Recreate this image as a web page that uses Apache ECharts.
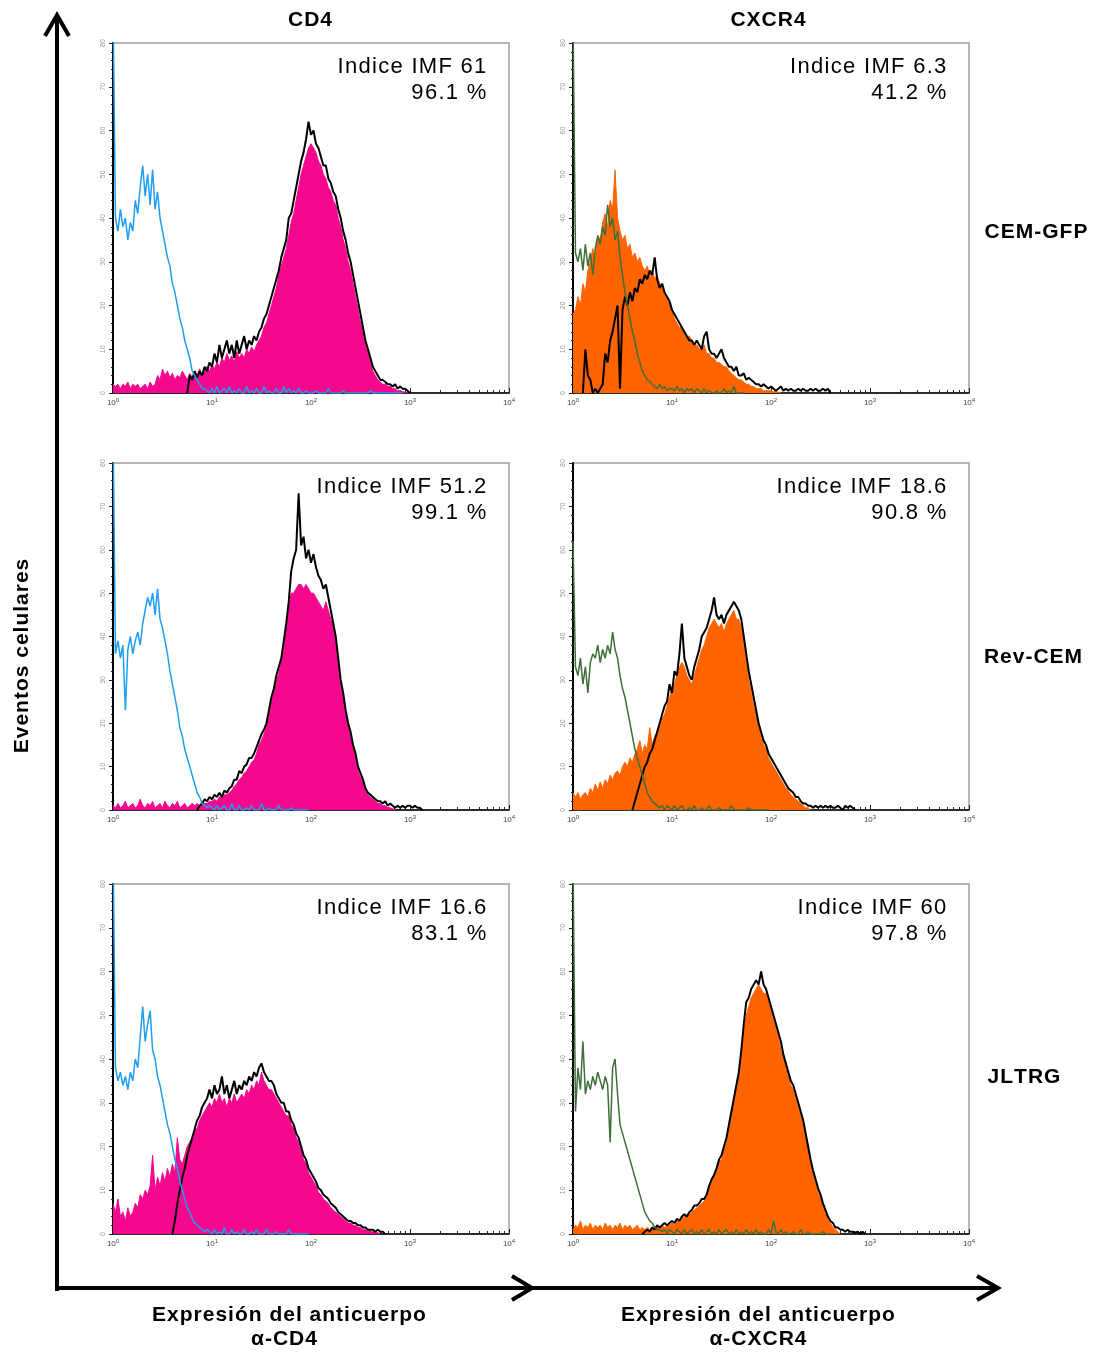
<!DOCTYPE html>
<html><head><meta charset="utf-8">
<script src="https://cdn.jsdelivr.net/npm/echarts@6.0.0/dist/echarts.min.js"></script>
<style>html,body{margin:0;padding:0;background:#fff}#c{width:1094px;height:1353px}</style>
</head><body><div id="c"></div>
<script>
// ---------- DATA (histogram counts, bins every 0.025 decade of log10 fluorescence) ----------
const STEP = 0.025;
const colTitles = ['CD4', 'CXCR4'];
const rowTitles = ['CEM-GFP', 'Rev-CEM', 'JLTRG'];
const imfLabels = ['Indice IMF 61', 'Indice IMF 6.3', 'Indice IMF 51.2', 'Indice IMF 18.6', 'Indice IMF 16.6', 'Indice IMF 60'];
const pctLabels = ['96.1 %', '41.2 %', '99.1 %', '90.8 %', '83.1 %', '97.8 %'];
const xTickLabels = ['0', '1', '2', '3', '4'];

// CD4 / CEM-GFP
const cd4CemCtrlStart = 0;
const cd4CemCtrl = [90,40,37,42,38,40,35,39,37,44, 41,47,52,45,50,43,51,42,46,40, 37,34,31,29,25,23,20,17,15,12, 10,8,5,4,3,2,1,1,0.5,0, 1,0,1.5,0,0.5,1,0,1.5,0,0.5, 0,1,0,0,1.5,0,0.5,0,1,0, 0,1.5,0,0.5,0,0,1,0,0,1.5, 0,1,0,0.5,0,1,0,0,0.5,0, 0,0,0.5,0,0,0,0,1,0,0, 0,0,0,0.5,0,0,0,0,0,0, 0,0,0,0,0.5,0,0,0,0,0, 0,0,0,0,0,0,0,0];
const cd4CemFillStart = 0;
const cd4CemFill = [2,1.5,2,1,2,1.5,2.5,1,2,1.5, 2,1,1.5,2,1,2.5,1.5,2,4,3, 5.5,4,5,3.5,4.5,3,4,3.5,5,4, 3,4.5,3.5,5,4,5.5,4,5,6,5, 6.5,5.5,7,6,8,7,9,7.5,8.5,7, 9.5,8,9,8,10,9,10.5,9.5,11,12, 13,15,16,18,20,22,24,27,29,31, 33,36,39,41,44,47,50,52,54,56, 57,56,55,53,52,50,49,47,46,44, 43,40,38,35,33,30,28,25,22,19, 16,14,11,9,7,5,4,3,2.5,2, 2,1.5,1.5,1,1,0.5,0.5,0.3,0.2,0, 0];
const cd4CemBlackStart = 0.75;
const cd4CemBlack = [0,4,3,5,3.5,5,4,6,5,7, 6,9,7,11,8,10,12,9,11,8, 12,9,11,13,10,12,11,13,12,14, 15,17,18,20,22,24,26,28,31,33, 35,40,41,44,47,50,53,55,58,62, 59,60,57,56,54,52,52,49,48,46, 45,42,40,37,35,32,30,27,24,21, 18,15,12,10,8,6,5,4,3,3, 2.5,2,2,1.5,2,1,1.5,1,1,0.5, 0];

// CXCR4 / CEM-GFP
const cxCemCtrlStart = 0;
const cxCemCtrl = [85,32,30,33,28,34,29,32,27,33, 36,34,38,36,43,38,40,35,37,31, 27,23,20,17,14,12,9,7,5,4, 3,2.5,2,1.5,1,2,1,1.5,0.5,1, 1,0.5,1.5,0.5,1,0,1,0.5,1,0, 1,0.5,0,1,0,0.5,0,0,0.5,0, 0,1,0,0.5,0,1.5,0,0,0,0];
const cxCemFillStart = 0;
const cxCemFill = [18,19,22,20,25,23,28,30,33,31, 36,35,39,41,38,44,42,51,40,37, 35,36,33,34,31,32,30,31,29,28, 29,27,28,26,27,25,24,23,22,20, 19,17,16,15,15,14,13,13,12,11, 11,10,10,11,9,9,8,8,7,7, 6.5,6,6,5,4.5,4,3.5,3,3,2.5, 2,2,1.5,1.5,1,1,1,0.5,0.5,0.5, 0.5,0.3,0.3,0.2,0];
const cxCemBlackStart = 0.1;
const cxCemBlack = [0,10,4,3,0,1,0,1,2,9, 7,12,14,17,20,1,19,22,20,23, 21,24,23,26,25,27,26,28,27,31, 26,24,25,23,22,21,19,18,17,16, 15,14,13,12,12,11,12,11,10,13, 14,10,9,9,8,9,10,8,7,6, 6,5,6,4,4,4.5,3,3.5,3,2.5, 2,2,1.5,2,1.5,1,1.5,1,0.5,1, 1.5,0.5,1,0.5,1,0.5,0.5,1,0.5,1, 0.5,0.5,1,0.5,1,0.5,0.5,1,0.5,1, 0];

// CD4 / Rev-CEM
const cd4RevCtrlStart = 0;
const cd4RevCtrl = [90,36,39,35,38,23,37,40,36,39, 41,38,43,46,49,47,50,45,51,44, 42,39,36,32,29,26,23,19,17,14, 12,10,8,6,4,3,1.5,1,0.5,1, 0.5,0,1,0,0.5,1,0,0,1.5,0, 0,1,0,0,0.5,0,1,0,0,0, 1.5,0,0,0.5,0,0,0,1,0,0, 0,0,0.5,0,0,0,0,0,0,0];
const cd4RevFillStart = 0;
const cd4RevFill = [1,0.5,1.5,0.5,1,2,0.5,1,1.5,0.5, 1,2.5,1,0.5,1.5,1,2,0.5,1,1.5, 0.5,2,1,0.5,1.5,1,2,0.5,1,1.5, 0.5,1,1.5,1,1.5,1,2,1.5,1.5,2, 2,2.5,2,3,3,3.5,3.5,4,4.5,5.5, 6,7,7.5,8.5,9,10,11,11.5,13,15, 16,17.5,19,22,25,27,29.5,31.5,34,38, 42,46,50,50,51,52,52,51,52,51, 50,50,49,48,47,46,48,46,44,42, 38,33,29,26,22,19,17,14,12,9, 7.5,6,4.5,3.5,3,2.5,2,1.5,1.5,1, 1,0.5,0.5,0.3,0];
const cd4RevBlackStart = 0.85;
const cd4RevBlack = [0,1,1.5,2.5,2,3,2.5,3.5,3,4, 3,4.5,4,5,5.5,7,7,9,8.5,10, 10.5,12,12,13,14.5,16,17.5,18.5,20,23, 26,28,31,33,35,39,43,48,55,58, 60,73,61,63,58,60,57,59,56,54, 53,51,52,49,46,43,40,35,30,27, 23,20,18,15,13,10,8.5,7,5,4, 3.5,3,2.5,2,2,1.5,2,1,1.5,1, 0.5,1,0.5,1,0.5,1,1,0.5,1,0.5,0.5, 0];

// CXCR4 / Rev-CEM
const cxRevCtrlStart = 0;
const cxRevCtrl = [62,33,31,35,29,33,27,34,36,35, 38,34,37,35,38,36,41,37,35,31, 28,26,23,20,17,14,12,10,8,6, 4,3,2,1.5,1,0.5,1,0,1,0.5, 0,1,0,0.5,1,0,0,0.5,0,1, 0,0,0.5,0,0,1,0,0,0,0.5, 0,0,0,0,1,0,0,0,0,0, 0,0.5,0,0,0,0,0,0,0,0];
const cxRevFillStart = 0;
const cxRevFill = [4,3,4,2.5,3.5,4,3,5,4,6, 4.5,6.5,5,7,6,8,7,8.5,9,8, 10,11,10,12,11,13,14,16,13,15, 14,19,15,17,18,20,21,22,24,26, 28,29,31,33,34,33,31,30,29,31, 33,35,37,38,40,42,43,44,43,42, 43,41,43,44,45,46,44,44,42,38, 34,30,27,24,22,19,17,15,14,12, 11,10,9,8,7,6,5,4.5,3.5,3, 2.5,2,1.5,1,0.5,0.5,0];
const cxRevBlackStart = 0.6;
const cxRevBlack = [0,2,4,6,8,10,11,13,14,16, 18,20,22,24,25,29,27,32,31,36, 43,35,33,31,30,33,35,37,40,41, 42,44,46,49,45,44,45,43,45,46, 47,48,47,46,44,40,36,32,29,26, 23,20,18,16,15,13,12,11,10,9, 8,7,6,5,4.5,4,3,3,2,1.5, 1.5,1,1,0.5,1,0.5,1,0.5,1,0.5, 1,0.5,0.5,1,0.5,0,1,0.5,1,0.5, 0];

// CD4 / JLTRG
const cd4JlCtrlStart = 0;
const cd4JlCtrl = [90,38,35,37,34,36,33,37,35,40, 38,45,52,44,48,51,42,40,36,34, 31,28,25,23,20,17,15,12,10,8, 6,5,3.5,2.5,2,1.5,1,0.5,1,0.5, 0,1,0,0.5,0,1.5,0,0,1,0, 0.5,0,0,1,0,0,0.5,0,1,0, 0,0,1,0,0,0,0.5,0,0,0, 0,1,0,0,0,0,0,0,0,0];
const cd4JlFillStart = 0;
const cd4JlFill = [7,5,8,4,5,3,6,4,5,7, 6,9,8,10,9,11,18,10,13,11, 14,12,15,13,16,14,22,17,16,18, 20,21,22,24,24,26,27,28,29,30, 29,31,30,32,30,31,29,31,30,32, 30,31,32,31,33,32,34,33,35,34, 37,35,34,33,33,32,31,30,29,28, 27,27,25,24,22,21,19,17,16,14, 13,12,11,9.5,9,8,7.5,7,6,5.5, 5,4.5,4,3.5,3,2.5,2.5,2,2,1.5, 1.5,1,1,1,0.5,0.5,0.5,0.3,0];
const cd4JlBlackStart = 0.6;
const cd4JlBlack = [0,3,7,10,13,15,18,20,22,24, 26,27,29,30,31,33,31,34,32,33, 36,32,34,31,33,35,32,34,33,35, 34,36,35,37,36,38,39,37,36,35, 35,34,32,31,30,30,28,28,26,25, 23,22,20,18,17,15,14,13,12,10.5, 10,9,8.5,8,7,6.5,6,5,4.5,4, 3.5,3,3,2.5,2.5,2,2,1.5,1.5,1, 1,1,0.5,1,0.5,0.5, 0];

// CXCR4 / JLTRG
const cxJlCtrlStart = 0;
const cxJlCtrl = [85,28,38,33,44,32,35,33,36,34, 37,35,33,36,34,21,38,40,32,25, 23,21,19,17,15,13,11,9,7,5, 4,3,2.5,1.5,1,1,0.5,1,0,1, 0.5,0,1,0.5,0,1,0,0.5,1,0, 0.5,0,1,0,0.5,1,0,0.5,0,1, 0,0.5,1,0,0.5,0,1,0,0.5,0, 1,0,0.5,0,1,0,0.5,0,0,1, 0,3,0.5,0,1,0,0.5,0,0,0.5, 0,0,1,0,0,0.5,0,0,0,0, 0,0.5,0,0,0];
const cxJlFillStart = 0;
const cxJlFill = [1,2,1.5,3,1,2,1.5,2.5,1,2, 1.5,2,1,2.5,1.5,2,1,2,1.5,2.5, 1,2,1.5,2,1,1.5,2,1,1.5,1, 1.5,1,1.5,1,1.5,1.5,2,1.5,2,2, 2.5,2,3,3,3.5,4,4,4.5,5,5.5, 6,6.5,7,7.5,8.5,10,12,13,15,16.5, 17,19,21,24,27,30,33,36,40,46, 50,52,54,55,56,57,56,55,55,53, 51,49,47,45,42,40,38,36,34,33, 31,29,27,25,22,19,16,13.5,11.5,9.5, 8,6.5,5,3.5,2.5,1.5,1,0.5,0];
const cxJlBlackStart = 0.7;
const cxJlBlack = [0,0.5,1,0.5,1.5,1,2,1.5,2,2.5, 2,2.5,3,2.5,3.5,3,4,4.5,4,5, 5.5,6.5,6.5,7,8,8,9,11,12.5,13.5, 15,17,18,20,22,25,28,31,34,37, 42,48,53,54,56,57,58,57,60,57, 56,54,52,50,48,46,44,41,39,37, 35,34,32,30,28,26,23,20,17,14.5, 12.5,10.5,9,7,5.5,4,3,2.5,1.5,1.5, 1,1,0.5,1,0.5,0.5,0.3,0.5,0,0.5, 0];

// ---------- CHART ----------
const PINK = '#f5078e', ORANGE = '#ff6400', BLUE = '#1f9df2', GREEN = '#3f6f38';
const FONT = "'Liberation Sans', Arial, sans-serif";
const pts = (start, arr) => arr.map((v, i) => [+(start + i * STEP).toFixed(3), v]);

const panels = [
  { fill: [cd4CemFillStart, cd4CemFill], black: [cd4CemBlackStart, cd4CemBlack], ctrl: [cd4CemCtrlStart, cd4CemCtrl], fc: PINK, cc: BLUE },
  { fill: [cxCemFillStart, cxCemFill], black: [cxCemBlackStart, cxCemBlack], ctrl: [cxCemCtrlStart, cxCemCtrl], fc: ORANGE, cc: GREEN },
  { fill: [cd4RevFillStart, cd4RevFill], black: [cd4RevBlackStart, cd4RevBlack], ctrl: [cd4RevCtrlStart, cd4RevCtrl], fc: PINK, cc: BLUE },
  { fill: [cxRevFillStart, cxRevFill], black: [cxRevBlackStart, cxRevBlack], ctrl: [cxRevCtrlStart, cxRevCtrl], fc: ORANGE, cc: GREEN },
  { fill: [cd4JlFillStart, cd4JlFill], black: [cd4JlBlackStart, cd4JlBlack], ctrl: [cd4JlCtrlStart, cd4JlCtrl], fc: PINK, cc: BLUE },
  { fill: [cxJlFillStart, cxJlFill], black: [cxJlBlackStart, cxJlBlack], ctrl: [cxJlCtrlStart, cxJlCtrl], fc: ORANGE, cc: GREEN }
];

const lefts = [113, 573], tops = [43, 463, 884], heights = [350, 347, 350], W = 396;
const minorVals = [];
for (let k = 0; k < 4; k++) for (let m = 2; m <= 9; m++) minorVals.push(k + Math.log10(m));

// letter-spaced rich text (each character a token with small side padding)
const spaced = s => s.split('').map(c => '{a|' + c + '}').join('');

const grid = [], xAxis = [], yAxis = [], series = [], graphic = [];
panels.forEach((p, i) => {
  const col = i % 2, row = Math.floor(i / 2);
  grid.push({ left: lefts[col], top: tops[row], width: W, height: heights[row], show: true,
    borderColor: '#a0a0a0', borderWidth: 1.5, backgroundColor: 'transparent' });
  xAxis.push({ type: 'value', gridIndex: i, min: 0, max: 4, interval: 1, position: 'bottom',
    axisLine: { lineStyle: { color: '#000', width: 1.5 } },
    axisTick: { inside: true, length: 5, lineStyle: { color: '#222', width: 1 } },
    splitLine: { show: false },
    axisLabel: { margin: 4, formatter: v => '{b|10}{s|' + xTickLabels[Math.round(v)] + '}',
      rich: { b: { fontSize: 8, color: '#444', fontFamily: FONT, lineHeight: 11 },
              s: { fontSize: 6, color: '#444', fontFamily: FONT, verticalAlign: 'top', lineHeight: 11 } } } });
  xAxis.push({ type: 'value', gridIndex: i, min: 0, max: 4, position: 'bottom',
    axisLine: { show: false }, axisLabel: { show: false }, splitLine: { show: false },
    axisTick: { show: true, inside: true, length: 3, customValues: minorVals, lineStyle: { color: '#222', width: 1 } } });
  yAxis.push({ type: 'value', gridIndex: i, min: 0, max: 80, interval: 10,
    axisLine: { show: true, lineStyle: { color: '#000', width: 2 } },
    axisTick: { show: true, length: 4, lineStyle: { color: '#222' } },
    minorTick: { show: true, splitNumber: 5, length: 2, lineStyle: { color: '#222' } },
    splitLine: { show: false }, minorSplitLine: { show: false },
    axisLabel: { rotate: 90, fontSize: 7, color: '#999', margin: 6, fontFamily: FONT } });
  const xi = i * 2;
  series.push({ type: 'line', xAxisIndex: xi, yAxisIndex: i, data: pts(p.fill[0], p.fill[1]), symbol: 'none',
    lineStyle: { color: p.fc, width: 1 }, areaStyle: { color: p.fc, opacity: 1 }, itemStyle: { color: p.fc }, z: 2 });
  series.push({ type: 'line', xAxisIndex: xi, yAxisIndex: i, data: pts(p.black[0], p.black[1]), symbol: 'none',
    lineStyle: { color: '#000', width: 2 }, itemStyle: { color: '#000' }, z: 3 });
  series.push({ type: 'line', xAxisIndex: xi, yAxisIndex: i, data: pts(p.ctrl[0], p.ctrl[1]), symbol: 'none',
    lineStyle: { color: p.cc, width: 1.5 }, itemStyle: { color: p.cc }, z: 4 });
  const rx = lefts[col] + 374, ty = tops[row];
  const imfRich = { a: { font: '22px ' + FONT, color: '#1a1a1a', padding: [0, 0.65, 0, 0.65] } };
  graphic.push({ type: 'text', x: rx, y: ty + 24, style: { text: spaced(imfLabels[i]), rich: imfRich, align: 'right', verticalAlign: 'middle' } });
  graphic.push({ type: 'text', x: rx, y: ty + 50, style: { text: spaced(pctLabels[i]), rich: imfRich, align: 'right', verticalAlign: 'middle' } });
});

const boldRich = { a: { font: 'bold 21px ' + FONT, color: '#141414', padding: [0, 0.5, 0, 0.5] } };
const txt = (s, x, y, extra) => Object.assign({ type: 'text', x, y, style: { text: spaced(s), rich: boldRich, align: 'center', verticalAlign: 'middle' } }, extra || {});
graphic.push(txt(colTitles[0], 310, 20), txt(colTitles[1], 768, 20));
graphic.push(txt(rowTitles[0], 1036, 232), txt(rowTitles[1], 1033, 657), txt(rowTitles[2], 1024, 1077));
graphic.push(txt('Eventos celulares', 22, 656, { rotation: Math.PI / 2 }));
graphic.push(txt('Expresión del anticuerpo', 289, 1315), txt('α-CD4', 284, 1339));
graphic.push(txt('Expresión del anticuerpo', 758, 1315), txt('α-CXCR4', 758, 1339));

const arrowStyle = { stroke: '#000', lineWidth: 4, fill: null, lineJoin: 'miter', lineCap: 'butt' };
graphic.push({ type: 'polyline', shape: { points: [[57, 1291], [57, 16]] }, style: arrowStyle });
graphic.push({ type: 'polyline', shape: { points: [[45, 36], [57, 15], [69, 36]] }, style: arrowStyle });
graphic.push({ type: 'polyline', shape: { points: [[55, 1288], [996, 1288]] }, style: arrowStyle });
graphic.push({ type: 'polyline', shape: { points: [[977, 1276], [998, 1288], [977, 1300]] }, style: arrowStyle });
graphic.push({ type: 'polyline', shape: { points: [[512, 1276], [532, 1288], [512, 1300]] }, style: arrowStyle });

const chart = echarts.init(document.getElementById('c'), null, { renderer: 'canvas' });
chart.setOption({ animation: false, backgroundColor: '#fff', grid, xAxis, yAxis, series, graphic });
</script></body></html>
